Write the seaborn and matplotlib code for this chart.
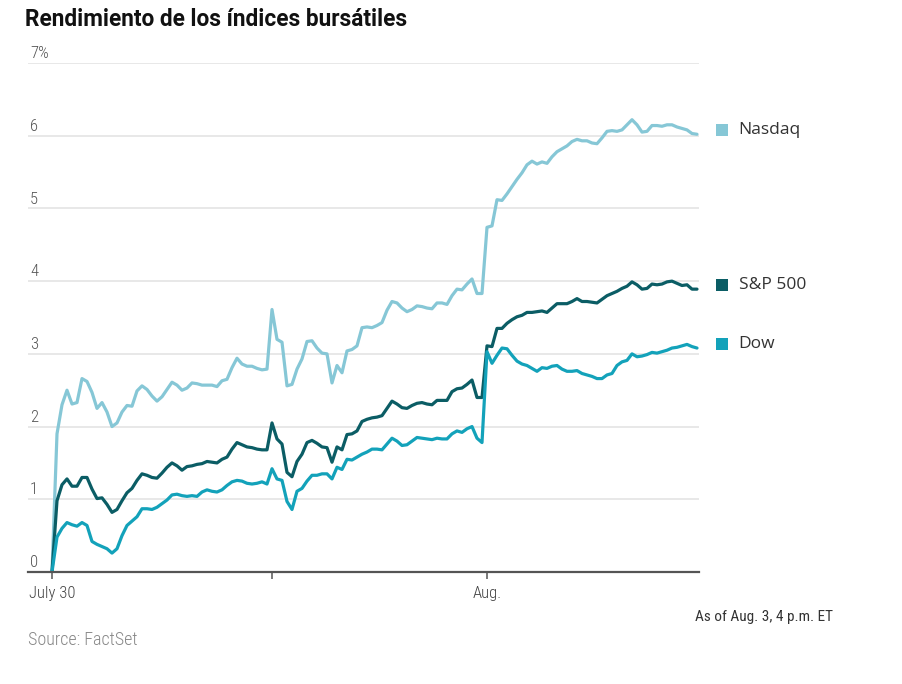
import numpy as np
import pandas as pd
import matplotlib
matplotlib.use("Agg")
import matplotlib.pyplot as plt
import matplotlib.transforms as mtransforms
import seaborn as sns

# ---------------- data (percent change, ~5-min samples, Jul 30 -> Aug 3) ----------------
nasdaq = [0, 1.9, 2.3, 2.5, 2.31, 2.33, 2.66, 2.62, 2.47, 2.25,
          2.33, 2.2, 2.0, 2.05, 2.2, 2.29, 2.28, 2.49, 2.56, 2.51,
          2.42, 2.35, 2.41, 2.51, 2.61, 2.57, 2.50, 2.53, 2.60, 2.59,
          2.57, 2.57, 2.57, 2.55, 2.63, 2.65, 2.81, 2.94, 2.86, 2.83,
          2.83, 2.80, 2.78, 2.79, 3.61, 3.20, 3.16, 2.56, 2.58, 2.79,
          2.93, 3.17, 3.18, 3.08, 3.01, 3.00, 2.60, 2.84, 2.74, 3.04,
          3.06, 3.11, 3.36, 3.37, 3.36, 3.39, 3.43, 3.60, 3.72, 3.70,
          3.63, 3.58, 3.61, 3.66, 3.65, 3.63, 3.62, 3.70, 3.70, 3.68,
          3.80, 3.89, 3.88, 3.96, 4.03, 3.83, 3.83, 4.74, 4.76, 5.12,
          5.11, 5.20, 5.30, 5.40, 5.49, 5.60, 5.65, 5.61, 5.64, 5.62,
          5.71, 5.78, 5.82, 5.86, 5.92, 5.95, 5.93, 5.93, 5.90, 5.89,
          5.97, 6.06, 6.07, 6.06, 6.08, 6.15, 6.22, 6.15, 6.05, 6.06,
          6.14, 6.14, 6.13, 6.15, 6.15, 6.12, 6.10, 6.08, 6.03, 6.02]

sp500 = [0, 0.98, 1.2, 1.28, 1.18, 1.18, 1.30, 1.30, 1.14, 1.01,
         1.02, 0.93, 0.82, 0.86, 0.98, 1.09, 1.15, 1.26, 1.35, 1.33,
         1.30, 1.29, 1.36, 1.44, 1.50, 1.46, 1.40, 1.45, 1.46, 1.48,
         1.49, 1.52, 1.51, 1.50, 1.55, 1.58, 1.69, 1.78, 1.75, 1.72,
         1.71, 1.69, 1.68, 1.68, 2.05, 1.83, 1.76, 1.37, 1.31, 1.52,
         1.62, 1.78, 1.81, 1.77, 1.72, 1.71, 1.51, 1.72, 1.68, 1.89,
         1.90, 1.94, 2.07, 2.10, 2.12, 2.13, 2.15, 2.25, 2.35, 2.31,
         2.26, 2.25, 2.29, 2.32, 2.33, 2.31, 2.30, 2.36, 2.36, 2.36,
         2.48, 2.52, 2.53, 2.58, 2.64, 2.40, 2.40, 3.11, 3.10, 3.35,
         3.35, 3.42, 3.47, 3.51, 3.53, 3.57, 3.57, 3.58, 3.59, 3.57,
         3.63, 3.69, 3.69, 3.69, 3.72, 3.76, 3.72, 3.72, 3.71, 3.70,
         3.75, 3.80, 3.83, 3.86, 3.90, 3.93, 3.99, 3.95, 3.89, 3.90,
         3.96, 3.95, 3.96, 3.99, 4.00, 3.97, 3.94, 3.95, 3.89, 3.89]

dow = [0, 0.48, 0.60, 0.68, 0.65, 0.63, 0.68, 0.64, 0.42, 0.38,
       0.35, 0.32, 0.26, 0.32, 0.50, 0.64, 0.70, 0.76, 0.87, 0.87,
       0.86, 0.89, 0.94, 0.99, 1.06, 1.07, 1.05, 1.04, 1.05, 1.04,
       1.10, 1.13, 1.11, 1.10, 1.13, 1.19, 1.24, 1.26, 1.25, 1.22,
       1.21, 1.22, 1.24, 1.21, 1.42, 1.28, 1.26, 0.97, 0.86, 1.11,
       1.15, 1.25, 1.33, 1.33, 1.35, 1.35, 1.28, 1.44, 1.41, 1.55,
       1.54, 1.58, 1.62, 1.65, 1.69, 1.69, 1.68, 1.76, 1.84, 1.80,
       1.74, 1.75, 1.80, 1.85, 1.84, 1.83, 1.82, 1.84, 1.83, 1.83,
       1.90, 1.94, 1.92, 1.97, 2.00, 1.84, 1.78, 3.03, 2.87, 2.98,
       3.08, 3.07, 2.98, 2.90, 2.86, 2.84, 2.80, 2.76, 2.81, 2.80,
       2.83, 2.84, 2.79, 2.76, 2.76, 2.77, 2.73, 2.71, 2.69, 2.66,
       2.66, 2.71, 2.73, 2.84, 2.89, 2.91, 3.00, 2.96, 2.97, 2.99,
       3.02, 3.01, 3.03, 3.05, 3.08, 3.09, 3.11, 3.13, 3.10, 3.08]

series_names = ["Nasdaq", "S&P 500", "Dow"]
series_colors = ["#86c7d6", "#0b5d65", "#13a2ba"]
day_open_idx = [0, 44, 87]
day_labels = ["July 30", "", "Aug."]
y_ticks = [0, 1, 2, 3, 4, 5, 6, 7]
y_labels = ["0", "1", "2", "3", "4", "5", "6", "7%"]

title = "Rendimiento de los índices bursátiles"
note = "As of Aug. 3, 4 p.m. ET"
source = "Source: FactSet"

# ---------------- build table ----------------
frames = []
for name, vals in zip(series_names, [nasdaq, sp500, dow]):
    frames.append(pd.DataFrame({"t": np.arange(len(vals)), "val": vals, "serie": name}))
df = pd.concat(frames, ignore_index=True)
palette = dict(zip(series_names, series_colors))

# ---------------- plot ----------------
sns.set_theme(style="white")
NARROW = ["Roboto Condensed", "Liberation Sans", "DejaVu Sans"]
plt.rcParams["font.family"] = NARROW

W, H = 902, 684
fig = plt.figure(figsize=(W / 100, H / 100), dpi=100)
ax = fig.add_axes([28 / W, (H - 572) / H, (699 - 28) / W, (572 - 63) / H])

sns.lineplot(data=df, x="t", y="val", hue="serie", hue_order=series_names,
             palette=palette, linewidth=2.3, legend=False, ax=ax,
             estimator=None, sort=False)

n = len(nasdaq)
ax.set_xlim(-4.8, (n - 1) + 0.4)
ax.set_ylim(0, 7)
ax.set_xlabel("")
ax.set_ylabel("")

# grid & spines
ax.set_yticks(y_ticks)
ax.yaxis.grid(True, color="#e2e2e2", linewidth=1.1)
ax.xaxis.grid(False)
ax.tick_params(axis="y", length=0, labelleft=False)
for s in ["left", "right", "top"]:
    ax.spines[s].set_visible(False)
ax.spines["bottom"].set_color("#555555")
ax.spines["bottom"].set_linewidth(1.6)
ax.spines["bottom"].set_zorder(5)

ax.set_xticks(day_open_idx)
ax.set_xticklabels(day_labels)
ax.tick_params(axis="x", bottom=True, length=5, width=1.1, color="#555555",
               pad=5, labelsize=12, labelcolor="#444444")
for lab in ax.get_xticklabels():
    lab.set_fontweight("light")

# y labels sitting above grid lines
blend = mtransforms.blended_transform_factory(ax.transAxes, ax.transData)
for v, lab in zip(y_ticks, y_labels):
    ax.annotate(lab, xy=(0, v), xycoords=blend, xytext=(1.5, 3.5),
                textcoords="offset points", ha="left", va="baseline",
                fontsize=12, color="#555555", fontweight="light")

# end labels with coloured squares
last_x = n - 1
for name, vals, col in zip(series_names, [nasdaq, sp500, dow], series_colors):
    tr = mtransforms.offset_copy(ax.transData, fig=fig, x=25, y=4, units="dots")
    ax.scatter([last_x], [vals[-1]], marker="s", s=78, color=col,
               transform=tr, clip_on=False, linewidths=0, zorder=6)
    ax.annotate(name, xy=(last_x, vals[-1]), xytext=(30, 3),
                textcoords="offset points", ha="left", va="center",
                fontsize=12.5, color="#333333", family=["Open Sans", "DejaVu Sans"],
                annotation_clip=False)

# title and footers
fig.text(25 / W, 1 - 20 / H, title, ha="left", va="center",
         fontsize=16.3, fontweight="bold", color="#111111",
         family=["Roboto", "DejaVu Sans"])
fig.text(833 / W, 1 - 617 / H, note, ha="right", va="center",
         fontsize=11, color="#333333")
fig.text(28 / W, 1 - 640 / H, source, ha="left", va="center",
         fontsize=13, color="#888888", fontweight="light")

fig.savefig("out.png", dpi=100)
